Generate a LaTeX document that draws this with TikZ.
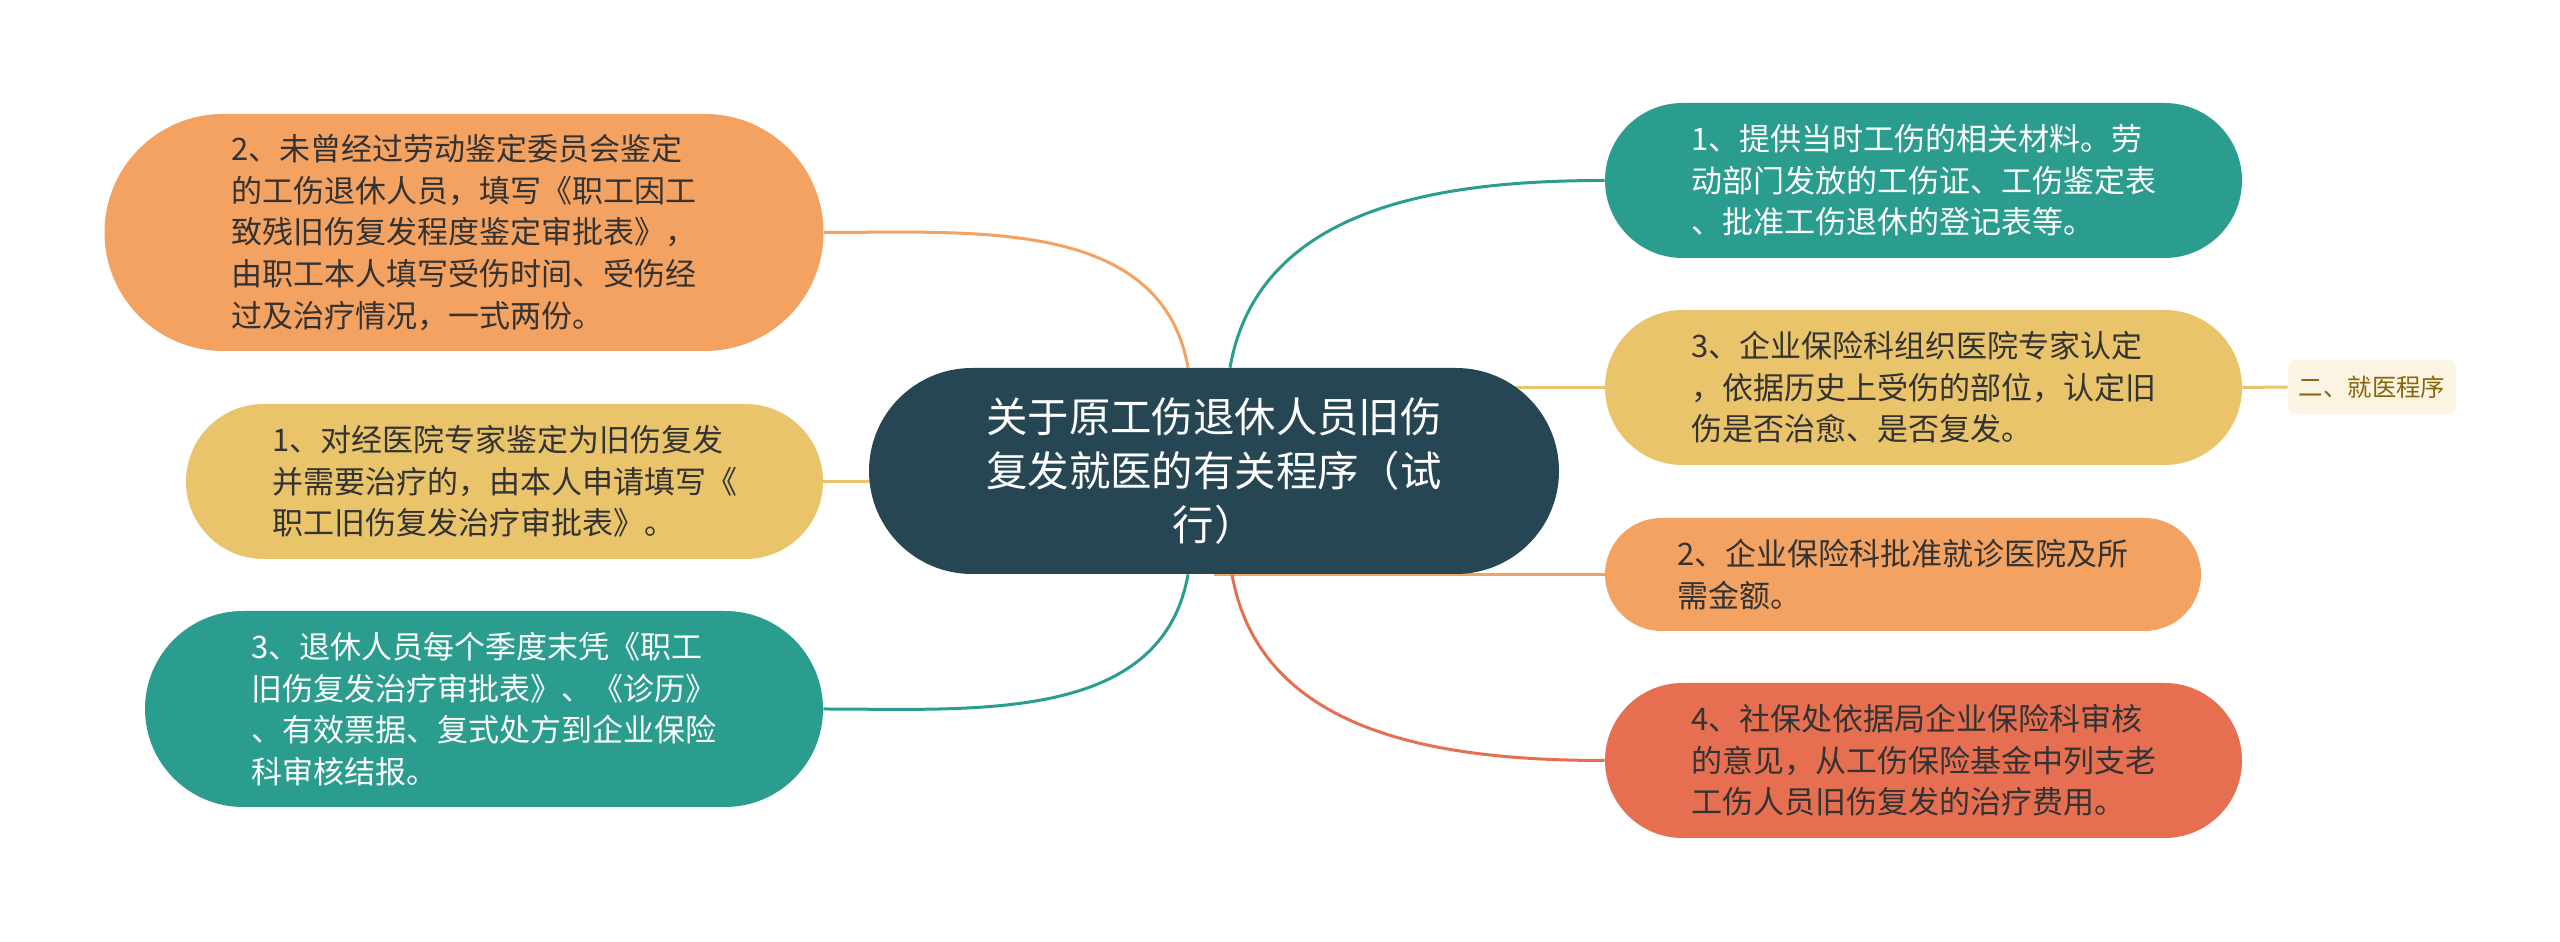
\documentclass[tikz,border=0pt]{standalone}
\usepackage{fontspec}
\setmainfont{Noto Sans CJK SC}
\usepackage{tikz}
\usetikzlibrary{backgrounds}

\definecolor{deep}{HTML}{264653}
\definecolor{teal}{HTML}{2A9D8F}
\definecolor{sand}{HTML}{E9C46A}
\definecolor{peach}{HTML}{F4A261}
\definecolor{coral}{HTML}{E76F51}
\definecolor{tagfill}{HTML}{FBF4E3}
\definecolor{tagtext}{HTML}{8A6408}
\definecolor{ink}{HTML}{333333}

\tikzset{
  leaf/.style={align=left, inner sep=0pt, text=ink,
    font=\fontsize{15.5pt}{20.8pt}\selectfont},
  three/.style={leaf, minimum width=318.5pt, minimum height=77.5pt, rounded corners=38.75pt},
  link/.style={line width=1.5pt}
}

\begin{document}
\begin{tikzpicture}[x=0.5pt,y=0.5pt]
\useasboundingbox (0,0) rectangle (2560,942);

% Centre
\node[fill=deep, text=white, align=center, inner sep=0pt,
  minimum width=345pt, minimum height=103pt, rounded corners=51.5pt,
  font=\fontsize{20.7pt}{27pt}\selectfont] (centre) at (1214,471)
  {关于原工伤退休人员旧伤\\复发就医的有关程序（试\\行）};

% Left side
\node[leaf, fill=peach, minimum width=359.5pt, minimum height=118.5pt, rounded corners=59.25pt]
  (jianding) at (464,709.5)
  {2、未曾经过劳动鉴定委员会鉴定\\的工伤退休人员，填写《职工因工\\致残旧伤复发程度鉴定审批表》，\\由职工本人填写受伤时间、受伤经\\过及治疗情况，一式两份。};
\node[three, fill=sand] (shenqing) at (504.5,460.5)
  {1、对经医院专家鉴定为旧伤复发\\并需要治疗的，由本人申请填写《\\职工旧伤复发治疗审批表》。};
\node[leaf, fill=teal, text=white, minimum width=339pt, minimum height=98pt, rounded corners=49pt]
  (jiebao) at (484,233)
  {3、退休人员每个季度末凭《职工\\旧伤复发治疗审批表》、《诊历》\\、有效票据、复式处方到企业保险\\科审核结报。};

% Right side
\node[three, fill=teal, text=white] (cailiao) at (1923.5,761.5)
  {1、提供当时工伤的相关材料。劳\\动部门发放的工伤证、工伤鉴定表\\、批准工伤退休的登记表等。};
\node[three, fill=sand] (rending) at (1923.5,554.5)
  {3、企业保险科组织医院专家认定\\，依据历史上受伤的部位，认定旧\\伤是否治愈、是否复发。};
\node[leaf, fill=peach, minimum width=298pt, minimum height=56.5pt, rounded corners=28.25pt]
  (pizhun) at (1903,367.5)
  {2、企业保险科批准就诊医院及所\\需金额。};
\node[three, fill=coral] (feiyong) at (1923.5,181.5)
  {4、社保处依据局企业保险科审核\\的意见，从工伤保险基金中列支老\\工伤人员旧伤复发的治疗费用。};

% Tag
\node[fill=tagfill, text=tagtext, inner sep=0pt, minimum width=84pt, minimum height=27pt,
  rounded corners=4pt, font=\fontsize{12.2pt}{14pt}\selectfont] (jiuyi) at (2372,555)
  {二、就医程序};

% Connectors
\begin{scope}[on background layer]
\draw[link, peach] ([xshift=-13pt]centre.north) to[out=100,in=0] (jianding.east);
\draw[link, sand] (shenqing.east) -- (centre.center |- shenqing.east);
\draw[link, teal] ([xshift=-13pt]centre.south) to[out=-100,in=0] (jiebao.east);
\draw[link, teal] ([xshift=8pt]centre.north) to[out=80,in=180] (cailiao.west);
\draw[link, sand] (centre.center |- rending.west) -- (rending.west);
\draw[link, peach] (centre.center |- pizhun.west) -- (pizhun.west);
\draw[link, coral] ([xshift=9pt]centre.south) to[out=-80,in=180] (feiyong.west);
\draw[link, sand] (rending.east) -- (jiuyi.west);
\end{scope}
\end{tikzpicture}
\end{document}
